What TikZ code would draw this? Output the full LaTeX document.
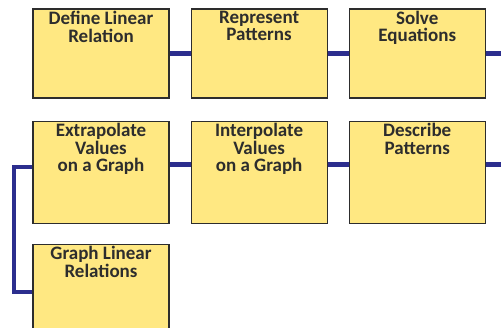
\documentclass[tikz,border=0pt]{standalone}
\usepackage{fontspec}
\setmainfont{Carlito}
\usetikzlibrary{positioning}

\definecolor{boxyellow}{RGB}{255,232,130}
\definecolor{linkblue}{RGB}{44,46,142}
\definecolor{boxedge}{RGB}{45,45,45}

\tikzset{
  topic/.style={draw=boxedge, line width=1.1pt, fill=boxyellow,
    minimum width=136pt, minimum height=89pt, inner sep=0pt},
  tall/.style={minimum height=102pt},
  caption/.style={font=\bfseries\fontsize{19}{17.5}\selectfont,
    text=boxedge, align=center, inner sep=0pt},
  link/.style={linkblue, line width=4.5pt},
}

\begin{document}
\begin{tikzpicture}[x=1pt,y=-1pt]
\useasboundingbox (0,0) rectangle (501,327);

% first row
\node[topic] (define) at (101,53.5) {};
\node[topic, right=21pt of define] (represent) {};
\node[topic, right=21pt of represent] (solve) {};

% second row
\node[topic, tall, below=22pt of define] (extrapolate) {};
\node[topic, tall, below=22pt of represent] (interpolate) {};
\node[topic, tall, below=22pt of solve] (describe) {};

% last box, runs off the page
\node[topic, tall, below=20pt of extrapolate] (graph) {};

% captions
\node[caption, below=2.5pt of define.north] (defineT) {Define Linear\\Relation};
\node[caption, below=2.5pt of represent.north] (representT) {Represent\\Patterns};
\node[caption, below=2.5pt of solve.north] (solveT) {Solve\\Equations};
\node[caption, below=2.5pt of extrapolate.north] (extrapolateT) {Extrapolate\\Values\\on a Graph};
\node[caption, below=2.5pt of interpolate.north] (interpolateT) {Interpolate\\Values\\on a Graph};
\node[caption, below=2.5pt of describe.north] (describeT) {Describe\\Patterns};
\node[caption, below=2.5pt of graph.north] (graphT) {Graph Linear\\Relations};

% connectors
\coordinate (endA) at (501,53.5);
\coordinate (endB) at (501,164.5);
\coordinate (elbow) at (14,292);

\draw[link] (define.east) -- (represent.west);
\draw[link] (represent.east) -- (solve.west);
\draw[link] (solve.east) -- (endA);

\draw[link] (extrapolate.east |- endB) -- (interpolate.west |- endB);
\draw[link] (interpolate.east |- endB) -- (describe.west |- endB);
\draw[link] (describe.east |- endB) -- (endB);

\draw[link] ([yshift=5pt]extrapolate.west) -| (elbow) -- (elbow -| graph.west);

\end{tikzpicture}
\end{document}
